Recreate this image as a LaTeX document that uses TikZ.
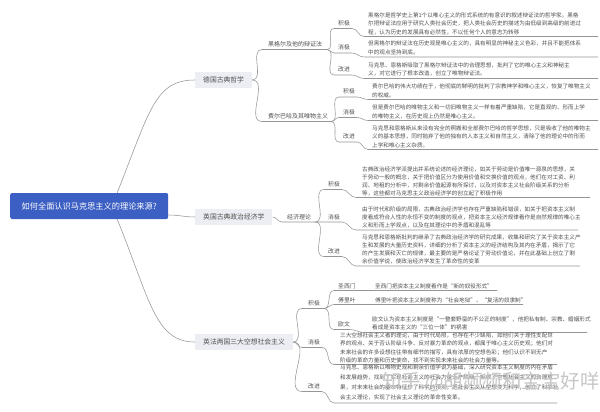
\documentclass[tikz,border=0pt]{standalone}
\usepackage{fontspec}
\setmainfont{Noto Sans CJK SC}
\definecolor{linec}{RGB}{150,150,150}
\definecolor{txt}{RGB}{80,80,80}
\definecolor{topicfill}{RGB}{236,238,243}
\definecolor{rootblue}{RGB}{60,95,195}
\tikzset{
 conn/.style={draw=linec,line width=0.55pt},
 roottopic/.style={fill=rootblue,text=white,rounded corners=2pt,font=\fontsize{8.2}{9}\selectfont,minimum width=158pt,minimum height=26pt,inner sep=0pt,anchor=west},
 maintopic/.style={fill=topicfill,text=txt,font=\fontsize{6.8}{8}\selectfont,inner xsep=8pt,inner ysep=0pt,minimum height=16pt,anchor=west},
 sublab/.style={text=txt,font=\fontsize{6}{7}\selectfont,inner sep=0pt,anchor=west},
 leaflab/.style={text=txt,font=\fontsize{5.8}{7}\selectfont,inner sep=0pt,anchor=west},
 paraA/.style={text=txt,font=\fontsize{5.6}{8.5}\selectfont,inner sep=0pt,anchor=north west,align=left},
 paraB/.style={text=txt,font=\fontsize{5.6}{7.8}\selectfont,inner sep=0pt,anchor=north west,align=left},
 paraC/.style={text=txt,font=\fontsize{5.6}{10}\selectfont,inner sep=0pt,anchor=north west,align=left},
 single/.style={text=txt,font=\fontsize{5.6}{7}\selectfont,inner sep=0pt,anchor=west},
 wmark/.style={text=black!22,font=\fontsize{19.5}{21}\selectfont,inner sep=0pt},
}
\begin{document}
\begin{tikzpicture}[x=1pt,y=-1pt]
\useasboundingbox (0,0) rectangle (600,412);
\fill[white] (0,0) rectangle (600,412);

% ---------- root and main topics ----------
\node[roottopic] (root) at (10,206) {如何全面认识马克思主义的理论来源?};
\node[maintopic] (de) at (195,80) {德国古典哲学};
\node[maintopic] (en) at (195,217) {英国古典政治经济学};
\node[maintopic] (fr) at (195,342) {英法两国三大空想社会主义};

\draw[conn] ([xshift=28pt]root.north) .. controls (150,110) and (155,80) .. (de.west);
\draw[conn] ([yshift=-9pt]root.east) to[out=0,in=180] (en.west);
\draw[conn] ([xshift=28pt]root.south) .. controls (150,300) and (155,342) .. (fr.west);

% ---------- German classical philosophy ----------
\node[sublab] (heg) at (268,44) {黑格尔及他的辩证法};
\node[sublab] (feu) at (268,116) {费尔巴哈及其唯物主义};
\coordinate (hegs) at (262,49.5); \coordinate (hege) at (327,49.5);
\coordinate (feus) at (262,121.5); \coordinate (feue) at (331,121.5);
\draw[conn] (de.east) to[out=0,in=180] (hegs) -- (hege);
\draw[conn] (de.east) to[out=0,in=180] (feus) -- (feue);

% Hegel leaves
\node[leaflab] (h1) at (338,23) {积极};
\node[leaflab] (h2) at (338,47.5) {消极};
\node[leaflab] (h3) at (338,69.5) {改进};
\coordinate (h1a) at (334,28.5); \coordinate (h1b) at (352,28.5); \coordinate (h1c) at (364,36.5); \coordinate (h1d) at (598,36.5);
\coordinate (h2a) at (334,53); \coordinate (h2b) at (352,53); \coordinate (h2c) at (364,57); \coordinate (h2d) at (598,57);
\coordinate (h3a) at (334,75); \coordinate (h3b) at (352,75); \coordinate (h3c) at (364,78.5); \coordinate (h3d) at (598,78.5);
\draw[conn] (hege) to[out=0,in=180] (h1a) -- (h1b) to[out=0,in=180] (h1c) -- (h1d);
\draw[conn] (hege) to[out=0,in=180] (h2a) -- (h2b) to[out=0,in=180] (h2c) -- (h2d);
\draw[conn] (hege) to[out=0,in=180] (h3a) -- (h3b) to[out=0,in=180] (h3c) -- (h3d);
\node[paraA] (h1t) at (368,12.4) {黑格尔是哲学史上第1个以唯心主义的形式系统的有意识的叙述辩证法的哲学家。黑格\\尔把辩证法应用于研究人类社会历史，把人类社会历史的描述为由低级到高级的前进过\\程，认为历史的发展具有必然性，不以任何个人的意志为转移};
\node[paraA] (h2t) at (368,40.9) {但黑格尔的辩证法在历史观是唯心主义的，具有明显的神秘主义色彩，并且不能把体系\\中的观点坚持到底。};
\node[paraA] (h3t) at (368,62.4) {马克思、恩格斯吸取了黑格尔辩证法中的合理思想，批判了它的唯心主义和神秘主\\义，对它进行了根本改造，创立了唯物辩证法。};

% Feuerbach leaves
\node[leaflab] (f1) at (343,91.5) {积极};
\node[leaflab] (f2) at (343,112) {消极};
\node[leaflab] (f3) at (343,136.5) {改进};
\coordinate (f1a) at (339,97); \coordinate (f1b) at (357,97); \coordinate (f1c) at (368,99.5); \coordinate (f1d) at (598,99.5);
\coordinate (f2a) at (339,117.5); \coordinate (f2b) at (357,117.5); \coordinate (f2c) at (368,120.5); \coordinate (f2d) at (598,120.5);
\coordinate (f3a) at (339,142); \coordinate (f3b) at (357,142); \coordinate (f3c) at (368,149.5); \coordinate (f3d) at (598,149.5);
\draw[conn] (feue) to[out=0,in=180] (f1a) -- (f1b) to[out=0,in=180] (f1c) -- (f1d);
\draw[conn] (feue) to[out=0,in=180] (f2a) -- (f2b) to[out=0,in=180] (f2c) -- (f2d);
\draw[conn] (feue) to[out=0,in=180] (f3a) -- (f3b) to[out=0,in=180] (f3c) -- (f3d);
\node[paraA] (f1t) at (372,83.9) {费尔巴哈的伟大功绩在于，他彻底的鲜明的批判了宗教神学和唯心主义，恢复了唯物主义\\的权威。};
\node[paraA] (f2t) at (372,104.9) {但是费尔巴哈的唯物主义和一切旧唯物主义一样有着严重缺陷，它是直观的、形而上学\\的唯物主义，在历史观上仍然是唯心主义。};
\node[paraA] (f3t) at (372,125.4) {马克思和恩格斯从来没有完全的照搬和全部费尔巴哈的哲学思想，只是吸收了他的唯物主\\义的基本思想，同时抛弃了他的独有的人本主义和自然主义，清除了他的理论中的形而\\上学和唯心主义杂质。};

% ---------- English classical political economy ----------
\node[sublab] (jj) at (287,217) {经济理论};
\coordinate (jjs) at (282,222); \coordinate (jje) at (315,222);
\draw[conn] (en.east) to[out=0,in=180] (jjs) -- (jje);

\node[leaflab] (e1) at (328,184) {积极};
\node[leaflab] (e2) at (328,217) {消极};
\node[leaflab] (e3) at (328,251) {改进};
\coordinate (e1a) at (324,189.5); \coordinate (e1b) at (342,189.5); \coordinate (e1c) at (356,197.5); \coordinate (e1d) at (590,197.5);
\coordinate (e2a) at (324,222); \coordinate (e2b) at (342,222); \coordinate (e2c) at (356,230); \coordinate (e2d) at (578,230);
\coordinate (e3a) at (324,256.5); \coordinate (e3b) at (342,256.5); \coordinate (e3c) at (356,266); \coordinate (e3d) at (580,266);
\draw[conn] (jje) to[out=0,in=180] (e1a) -- (e1b) to[out=0,in=180] (e1c) -- (e1d);
\draw[conn] (jje) -- (e2a) -- (e2b) to[out=0,in=180] (e2c) -- (e2d);
\draw[conn] (jje) to[out=0,in=180] (e3a) -- (e3b) to[out=0,in=180] (e3c) -- (e3d);
\node[paraB] (e1t) at (362,166.9) {古典政治经济学派提出并系统论述的经济理论，如关于劳动是价值唯一源泉的思想，关\\于劳动一般的概念，关于把价值区分为使用价值和交换价值的观点，他们在对工资、利\\润、地租的分析中，对剩余价值起源有所探讨，以及对资本主义社会阶级关系的分析\\等，这些都对马克思主义政治经济学的创立起了积极作用};
\node[paraB] (e2t) at (362,206.9) {由于时代和阶级的局限，古典政治经济学也存在严重缺陷和错误，如关于把资本主义制\\度看成符合人性的永恒不变的制度的观点，把资本主义经济规律看作是自然规律的唯心主\\义和形而上学观点，以及在其理论中的矛盾和混乱等};
\node[paraB] (e3t) at (362,234.9) {马克思和恩格斯批判的继承了古典政治经济学的研究成果，收集和研究了关于资本主义产\\生和发展的大量历史资料，详细的分析了资本主义的经济结构及其内在矛盾，揭示了它\\的产生发展和灭亡的规律，最主要的是严格论证了劳动价值论，并在此基础上创立了剩\\余价值学说，使政治经济学发生了革命性的变革};

% ---------- Utopian socialism ----------
\node[leaflab] (u1) at (308,303) {积极};
\node[leaflab] (u2) at (308,342) {消极};
\node[leaflab] (u3) at (308,386) {改进};
\coordinate (u1a) at (302,308.5); \coordinate (u1b) at (324,308.5);
\coordinate (u2a) at (302,347.5); \coordinate (u2b) at (322,347.5); \coordinate (u2c) at (334,364.5); \coordinate (u2d) at (557,364.5);
\coordinate (u3a) at (302,391.5); \coordinate (u3b) at (322,391.5); \coordinate (u3c) at (334,403); \coordinate (u3d) at (557,403);
\draw[conn] (fr.east) to[out=0,in=180] (u1a) -- (u1b);
\draw[conn] (fr.east) to[out=0,in=180] (u2a) -- (u2b) to[out=0,in=180] (u2c) -- (u2d);
\draw[conn] (fr.east) to[out=0,in=180] (u3a) -- (u3b) to[out=0,in=180] (u3c) -- (u3d);

\node[leaflab] (s1) at (338,286) {圣西门};
\node[leaflab] (s2) at (338,300) {傅里叶};
\node[leaflab] (s3) at (338,324) {欧文};
\coordinate (s1a) at (334,290.5); \coordinate (s1d) at (497,290.5);
\coordinate (s2a) at (334,304.5); \coordinate (s2d) at (523,304.5);
\coordinate (s3a) at (334,329.5); \coordinate (s3b) at (350,329.5); \coordinate (s3c) at (364,332.5); \coordinate (s3d) at (587,332.5);
\draw[conn] (u1b) to[out=0,in=180] (s1a) -- (s1d);
\draw[conn] (u1b) to[out=0,in=180] (s2a) -- (s2d);
\draw[conn] (u1b) to[out=0,in=180] (s3a) -- (s3b) to[out=0,in=180] (s3c) -- (s3d);
\node[single] (s1t) at (375,286) {圣西门把资本主义制度看作是“新的奴役形式”};
\node[single] (s2t) at (375,300) {傅里叶把资本主义制度称为“社会地狱”、“复活的奴隶制”};
\node[paraA] (s3t) at (372,316.4) {欧文认为资本主义制度是“一整套野蛮的不公正的制度”，他把私有制、宗教、婚姻形式\\看成是资本主义的“三位一体”的祸害};

\node[paraA] (u2t) at (340,332.4) {三大空想社会主义者的理论，由于时代局限，也存在不少缺陷，如他们关于理性支配世\\界的观点、关于否认阶级斗争、反对暴力革命的观点，都属于唯心主义历史观；他们对\\未来社会的许多设想往往带有细节的描写，具有浓厚的空想色彩；他们认识不到无产\\阶级的革命力量和历史使命，找不到实现未来社会的社会力量等。};
\node[paraC] (u3t) at (340,364.4) {马克思、恩格斯以唯物史观和剩余价值学说为基础，深入研究资本主义制度的内在矛盾\\和发展趋势，找到了实现社会主义的社会力量无产阶级，吸收了空想社会主义的合理成\\果，对未来社会的基本特征作了科学的预测，把社会主义从空想变为科学，创立了科学社\\会主义理论，实现了社会主义理论的革命性变革。};

% watermark
\node[wmark] (wm) at (491,382) {知乎 @胡频频和宝宝好咩};
\end{tikzpicture}
\end{document}
